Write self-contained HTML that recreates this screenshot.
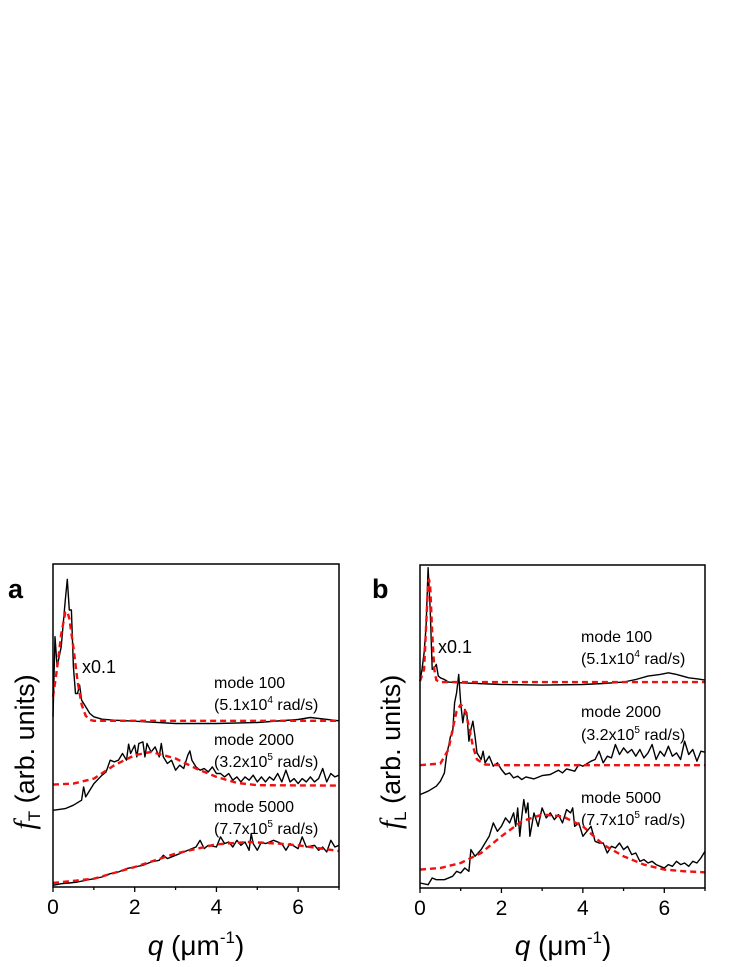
<!DOCTYPE html>
<html><head><meta charset="utf-8">
<style>
html,body{margin:0;padding:0;background:#fff;}
svg{display:block;font-family:"Liberation Sans",Arial,sans-serif;}
</style></head>
<body>
<svg id="fig" width="747" height="967" viewBox="0 0 747 967" xmlns="http://www.w3.org/2000/svg">
  <rect x="0" y="0" width="747" height="967" fill="#fff"/>
  <text x="8" y="598" font-size="27" font-weight="bold">a</text>
  <text x="372" y="598" font-size="27" font-weight="bold">b</text>
  <g transform="translate(34,752) rotate(-90)">
    <text x="0" y="0" font-size="27" text-anchor="middle"><tspan font-family="Liberation Serif" font-style="italic" font-size="30">f</tspan><tspan font-size="17" dy="6">T</tspan><tspan dy="-6"> (arb. units)</tspan></text>
  </g>
  <g transform="translate(400,752) rotate(-90)">
    <text x="0" y="0" font-size="27" text-anchor="middle"><tspan font-family="Liberation Serif" font-style="italic" font-size="30">f</tspan><tspan font-size="17" dy="6">L</tspan><tspan dy="-6"> (arb. units)</tspan></text>
  </g>
  <text x="196" y="955" font-size="28" text-anchor="middle"><tspan font-style="italic">q</tspan> (μm<tspan font-size="17" dy="-12">-1</tspan><tspan dy="12">)</tspan></text>
  <text x="563" y="955" font-size="28" text-anchor="middle"><tspan font-style="italic">q</tspan> (μm<tspan font-size="17" dy="-12">-1</tspan><tspan dy="12">)</tspan></text>

  <g font-size="16">
    <text x="82" y="673" font-size="18">x0.1</text>
    <text x="214" y="688">mode 100</text>
    <text x="214" y="710">(5.1x10<tspan font-size="10" dy="-7">4</tspan><tspan dy="7"> rad/s)</tspan></text>
    <text x="214" y="745">mode 2000</text>
    <text x="214" y="767">(3.2x10<tspan font-size="10" dy="-7">5</tspan><tspan dy="7"> rad/s)</tspan></text>
    <text x="214" y="812">mode 5000</text>
    <text x="214" y="834">(7.7x10<tspan font-size="10" dy="-7">5</tspan><tspan dy="7"> rad/s)</tspan></text>
  </g>
  <g font-size="16">
    <text x="438" y="653" font-size="18">x0.1</text>
    <text x="581" y="642">mode 100</text>
    <text x="581" y="664">(5.1x10<tspan font-size="10" dy="-7">4</tspan><tspan dy="7"> rad/s)</tspan></text>
    <text x="581" y="717">mode 2000</text>
    <text x="581" y="740">(3.2x10<tspan font-size="10" dy="-7">5</tspan><tspan dy="7"> rad/s)</tspan></text>
    <text x="581" y="803">mode 5000</text>
    <text x="581" y="825">(7.7x10<tspan font-size="10" dy="-7">5</tspan><tspan dy="7"> rad/s)</tspan></text>
  </g>
</svg>
<script>
// x tick labels
const xTicks = [0, 2, 4, 6];
// y values in arbitrary units (0 = bottom of frame, 968 = top)
// Panel a, mode 100
const aQ100 = [0,0.05,0.1,0.2,0.3,0.35,0.4,0.45,0.5,0.55,0.6,0.65,0.7,0.8,0.9,1.0,1.2,1.5,2,3,4,5,6,6.3,7];
const aV100 = [510,750,660,720,860,922,830,830,660,580,580,605,560,540,520,510,503,500,497,490,490,493,502,508,498];
const aFitQ100 = [0,0.1,0.2,0.3,0.35,0.4,0.5,0.6,0.7,0.8,0.9,1.0,7];
const aFitV100 = [570,655,758,823,826,805,718,618,547,513,501,498,498];
// Panel a, mode 2000
const aQ2000 = [0,0.3,0.5,0.7,0.75,0.8,0.9,1.0,1.2,1.3,1.4,1.5,1.6,1.7,1.8,1.85,1.9,2.0,2.05,2.1,2.2,2.25,2.3,2.4,2.5,2.6,2.65,2.7,2.8,2.9,3.0,3.1,3.2,3.3,3.35,3.4,3.5,3.6,3.7,3.8,3.9,4.0,4.1,4.2,4.3,4.4,4.5,4.6,4.7,4.8,4.9,5.0,5.1,5.2,5.3,5.4,5.5,5.6,5.7,5.8,5.9,6.0,6.1,6.2,6.3,6.4,6.5,6.6,6.7,6.8,6.9,7.0];
const aV2000 = [230,235,245,260,300,270,290,310,335,345,380,375,380,400,380,428,400,425,390,430,435,390,430,405,420,390,430,390,370,380,350,365,355,395,408,380,360,350,355,345,360,340,340,330,340,320,330,315,330,320,335,315,330,315,330,320,340,315,350,315,325,310,325,315,330,315,325,355,315,340,330,335];
const aFitQ2000 = [0,0.5,1,1.5,2,2.4,3,3.5,4,4.5,5,7];
const aFitV2000 = [307,310,325,365,395,405,385,355,330,312,305,304];
// Panel a, mode 5000
const aQ5000 = [0,0.2,0.4,0.6,0.8,1.0,1.2,1.4,1.6,1.8,2.0,2.2,2.4,2.6,2.7,2.8,3.0,3.2,3.4,3.5,3.6,3.7,3.8,4.0,4.1,4.2,4.3,4.4,4.5,4.6,4.7,4.8,4.85,4.9,5.0,5.1,5.2,5.4,5.6,5.7,5.8,6.0,6.1,6.2,6.4,6.5,6.6,6.7,6.8,6.9,7.0];
const aV5000 = [5,10,12,15,20,25,30,40,45,55,60,65,75,80,95,85,95,105,115,120,140,115,125,120,150,130,135,120,140,125,135,110,160,130,110,135,130,140,130,110,130,115,150,120,125,110,120,105,140,120,125];
const aFitQ5000 = [0,1,2,3,4,4.8,5.5,6,7];
const aFitV5000 = [12,25,60,100,128,135,130,125,108];
// Panel b, mode 100
const bQ100 = [0,0.05,0.1,0.15,0.2,0.25,0.3,0.35,0.4,0.45,0.5,0.6,0.7,1,2,3,4,4.5,5,5.3,5.6,5.9,6.1,6.3,6.6,6.8,7];
const bV100 = [620,655,705,785,960,835,655,660,670,635,630,625,617,615,610,608,610,613,617,625,635,640,645,640,630,627,623];
const bFitQ100 = [0,0.1,0.15,0.2,0.22,0.25,0.3,0.35,0.4,0.5,7];
const bFitV100 = [620,655,785,915,925,905,765,655,623,617,617];
// Panel b, mode 2000
const bQ2000 = [0,0.2,0.4,0.5,0.6,0.65,0.7,0.75,0.8,0.85,0.9,0.95,1.0,1.05,1.1,1.15,1.2,1.25,1.3,1.35,1.4,1.5,1.55,1.6,1.7,1.8,1.9,2.0,2.1,2.2,2.3,2.4,2.5,2.6,2.8,3.0,3.2,3.4,3.5,3.6,3.8,3.9,4.0,4.2,4.3,4.4,4.5,4.6,4.7,4.8,4.9,5.0,5.1,5.2,5.3,5.4,5.5,5.6,5.7,5.8,5.9,6.0,6.1,6.2,6.3,6.4,6.5,6.6,6.7,6.8,6.9,7.0];
const bV2000 = [280,290,305,320,345,395,425,455,465,555,585,640,555,495,535,525,440,475,500,455,405,385,410,375,395,365,375,355,340,345,330,335,325,333,327,337,340,353,345,357,350,370,365,380,385,410,375,395,390,430,400,420,405,415,395,415,390,405,430,385,410,395,425,395,405,385,440,400,415,380,410,407];
const bFitQ2000 = [0,0.5,0.7,0.8,0.9,1.0,1.1,1.2,1.3,1.4,1.6,2,7];
const bFitV2000 = [368,373,415,475,530,550,535,485,425,385,370,368,368];
// Panel b, mode 5000
const bQ5000 = [0,0.2,0.3,0.4,0.6,0.8,0.9,1.0,1.1,1.2,1.25,1.35,1.5,1.6,1.7,1.8,1.9,2.0,2.1,2.2,2.3,2.35,2.4,2.45,2.5,2.55,2.6,2.65,2.7,2.8,2.9,3.0,3.1,3.2,3.3,3.4,3.5,3.6,3.7,3.75,3.8,3.9,4.0,4.1,4.2,4.3,4.4,4.5,4.6,4.7,4.8,4.9,5.0,5.1,5.2,5.3,5.4,5.5,5.6,5.7,5.8,5.9,6.0,6.1,6.2,6.3,6.4,6.5,6.6,6.7,6.8,6.9,7.0];
const bV5000 = [15,10,30,25,25,35,50,45,60,50,115,95,115,135,155,195,170,185,210,195,225,185,240,155,215,265,225,255,155,225,185,240,210,225,205,220,195,235,225,240,185,195,155,170,185,140,135,135,105,125,120,135,115,125,100,105,80,85,75,80,70,65,60,70,65,80,70,75,65,80,75,90,110];
const bFitQ5000 = [0,0.5,1,1.5,2,2.5,3,3.5,4,4.5,5,5.5,6,6.5,7];
const bFitV5000 = [55,60,75,105,155,200,220,215,185,130,95,70,55,50,47];

const NS = "http://www.w3.org/2000/svg";
const svg = document.getElementById("fig");
const V_MAX = 968;

function mk(tag, attrs, parent) {
  const e = document.createElementNS(NS, tag);
  for (const k in attrs) e.setAttribute(k, attrs[k]);
  parent.appendChild(e);
  return e;
}

function panel(id, L, T, R, B, series) {
  const g = mk("g", {}, svg);
  
  
  const xs = q => L + (q / 7) * (R - L);
  const ys = v => B - (v / V_MAX) * (B - T);
  series.forEach(s => {
    const d = s.q.map((q, i) => (i ? "L" : "M") + xs(q).toFixed(1) + "," + ys(s.v[i]).toFixed(1)).join(" ");
    const p = mk("path", {d: d, fill: "none", stroke: s.fit ? "#f01010" : "#000",
      "stroke-width": s.fit ? 2.4 : 1.4, "stroke-linejoin": "round"}, g);
    if (s.fit) p.setAttribute("stroke-dasharray", "6,4");
    
    
  });
  const fr = mk("rect", {x: L, y: T, width: R - L, height: B - T, fill: "none", stroke: "#000", "stroke-width": 1.5}, g);
  
  
  for (let q = 0; q <= 7; q++) {
    const major = q % 2 === 0;
    const t = mk("line", {x1: xs(q), x2: xs(q), y1: B, y2: B + (major ? 5 : 3), stroke: "#000", "stroke-width": 1.3}, g);
    
    
  }
  xTicks.forEach(q => {
    const t = mk("text", {x: xs(q), y: B + 27, "font-size": 21, "text-anchor": "middle"}, g);
    t.textContent = q;
    
    
  });
}

panel("panel-a", 53, 564, 339, 887, [
  {q: aQ100, v: aV100, name: "a-mode100-data"},
  {q: aQ2000, v: aV2000, name: "a-mode2000-data"},
  {q: aQ5000, v: aV5000, name: "a-mode5000-data"},
  {q: aFitQ100, v: aFitV100, fit: true, name: "a-mode100-fit"},
  {q: aFitQ2000, v: aFitV2000, fit: true, name: "a-mode2000-fit"},
  {q: aFitQ5000, v: aFitV5000, fit: true, name: "a-mode5000-fit"}
]);
panel("panel-b", 420, 565, 705, 888, [
  {q: bQ100, v: bV100, name: "b-mode100-data"},
  {q: bQ2000, v: bV2000, name: "b-mode2000-data"},
  {q: bQ5000, v: bV5000, name: "b-mode5000-data"},
  {q: bFitQ100, v: bFitV100, fit: true, name: "b-mode100-fit"},
  {q: bFitQ2000, v: bFitV2000, fit: true, name: "b-mode2000-fit"},
  {q: bFitQ5000, v: bFitV5000, fit: true, name: "b-mode5000-fit"}
]);
</script>
</body></html>
